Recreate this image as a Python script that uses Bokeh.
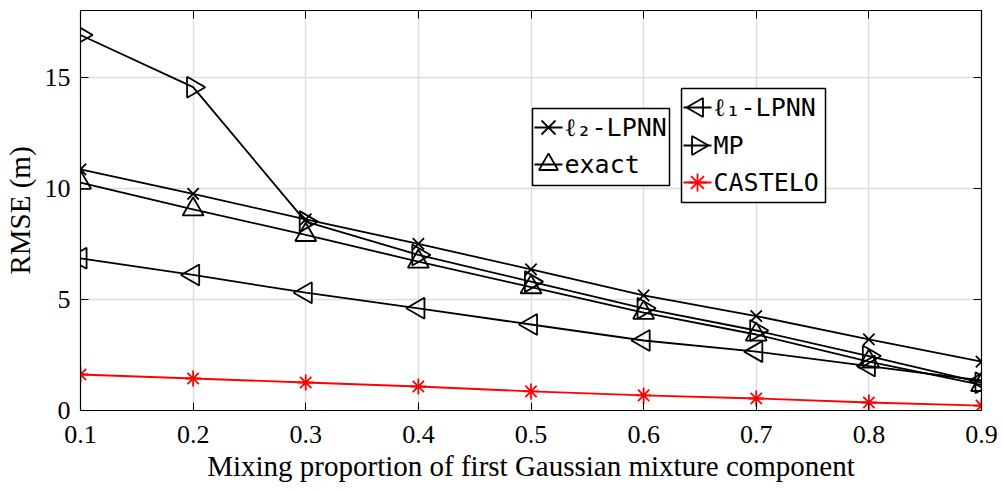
import numpy as np
from bokeh.plotting import figure
from bokeh.models import LinearAxis, FixedTicker, Range1d, PolyAnnotation, Label
from bokeh.embed import file_html
from bokeh.resources import INLINE

x = [0.1, 0.2, 0.3, 0.4, 0.5, 0.6, 0.7, 0.8, 0.9]
l2_lpnn = [10.85, 9.75, 8.6, 7.5, 6.35, 5.18, 4.25, 3.2, 2.2]
exact = [10.25, 9.05, 7.9, 6.7, 5.55, 4.4, 3.42, 2.2, 1.15]
l1_lpnn = [6.85, 6.1, 5.3, 4.6, 3.87, 3.15, 2.65, 2.0, 1.35]
mp = [16.9, 14.55, 8.5, 7.0, 5.8, 4.6, 3.6, 2.45, 1.25]
castelo = [1.62, 1.44, 1.26, 1.08, 0.86, 0.68, 0.54, 0.36, 0.22]
x_ticks = [0.1, 0.2, 0.3, 0.4, 0.5, 0.6, 0.7, 0.8, 0.9]
y_ticks = [0, 5, 10, 15]
legend1_labels = ["ℓ₂-LPNN", "exact"]
legend2_labels = ["ℓ₁-LPNN", "MP", "CASTELO"]

SERIF = "Liberation Serif"
MONO = "DejaVu Sans Mono"

W, H = 1003, 492
FL, FR, FT, FB = 79, 981, 10, 410  # frame edges in canvas pixels

p = figure(width=W, height=H, output_backend="svg", toolbar_location=None,
           x_range=Range1d(0.1, 0.9), y_range=Range1d(0, 18),
           min_border_left=FL, min_border_right=W - FR, min_border_top=FT, min_border_bottom=H - FB)
p.outline_line_color = "black"
p.outline_line_width = 1.2
p.background_fill_color = "white"
p.border_fill_color = "white"

for ax in (p.xaxis[0], p.yaxis[0]):
    ax.major_label_text_font = SERIF
    ax.major_label_text_font_size = "26px"
    ax.major_label_text_color = "black"
    ax.axis_label_text_font = SERIF
    ax.axis_label_text_font_size = "29px"
    ax.axis_label_text_font_style = "normal"
    ax.axis_label_text_color = "black"
    ax.major_tick_in = 8
    ax.major_tick_out = 0
    ax.minor_tick_in = 0
    ax.minor_tick_out = 0
    ax.axis_line_color = "black"
    ax.major_tick_line_color = "black"
p.xaxis[0].ticker = FixedTicker(ticks=x_ticks)
p.yaxis[0].ticker = FixedTicker(ticks=y_ticks)
p.xaxis[0].axis_label = "Mixing proportion of first Gaussian mixture component"
p.yaxis[0].axis_label = "RMSE (m)"
p.xaxis[0].major_label_standoff = 15
p.yaxis[0].major_label_standoff = 10
p.xaxis[0].axis_label_standoff = 4
p.yaxis[0].axis_label_standoff = 6

# mirrored ticks on top/right
top = LinearAxis(ticker=FixedTicker(ticks=x_ticks), major_label_text_font_size="0px",
                 major_tick_in=8, major_tick_out=0, minor_tick_in=0, minor_tick_out=0)
right = LinearAxis(ticker=FixedTicker(ticks=y_ticks), major_label_text_font_size="0px",
                   major_tick_in=8, major_tick_out=0, minor_tick_in=0, minor_tick_out=0)
top.major_label_text_alpha = 0
right.major_label_text_alpha = 0
p.add_layout(top, "above")
p.add_layout(right, "right")

p.xgrid.ticker = FixedTicker(ticks=x_ticks)
p.ygrid.ticker = FixedTicker(ticks=y_ticks)
p.xgrid.grid_line_color = "#dcdcdc"
p.ygrid.grid_line_color = "#dcdcdc"
p.xgrid.grid_line_width = 1.5
p.ygrid.grid_line_width = 1.5

lw = 1.8

def series(y, marker, color="black", angle=0.0, size=20):
    p.line(x, y, line_color=color, line_width=lw)
    p.scatter(x, y, marker=marker, size=size, angle=angle, fill_color=None,
              line_color=color, line_width=lw)

series(l2_lpnn, "x", size=16)
series(exact, "triangle", size=21)
series(l1_lpnn, "triangle", angle=np.pi / 2, size=21)
series(mp, "triangle", angle=-np.pi / 2, size=21)
series(castelo, "asterisk", color="red", size=16)

# ---------- hand-built legends (screen units, relative to frame bottom-left) ----------
def sx(cx):
    return cx - FL

def sy(cy):
    return FB - cy

def poly(pts, color="black", fill=None, width=lw):
    xs = [sx(a) for a, b in pts]
    ys = [sy(b) for a, b in pts]
    p.add_layout(PolyAnnotation(xs=xs, ys=ys, xs_units="screen", ys_units="screen",
                                fill_color=fill if fill else "white",
                                fill_alpha=1.0 if fill else 0.0,
                                line_color=color, line_alpha=1.0, line_width=width,
                                level="overlay"))

def tri(cx, cy, s, direction, color="black"):
    r = s / 2.0
    h = s * np.sqrt(3) / 2.0
    a = h / 3.0
    base = [(-r, a), (r, a), (0, a - h)]  # pointing up (canvas y down)
    pts = []
    for u, v in base:
        if direction == "up":
            pts.append((cx + u, cy + v))
        elif direction == "left":
            pts.append((cx + v, cy + u))
        else:  # right
            pts.append((cx - v, cy + u))
    poly(pts, color)

def xmark(cx, cy, r, color="black"):
    poly([(cx - r, cy - r), (cx + r, cy + r)], color)
    poly([(cx - r, cy + r), (cx + r, cy - r)], color)

def star(cx, cy, r, color="red"):
    d = r * 0.72
    poly([(cx, cy - r), (cx, cy + r)], color)
    poly([(cx - r, cy), (cx + r, cy)], color)
    poly([(cx - d, cy - d), (cx + d, cy + d)], color)
    poly([(cx - d, cy + d), (cx + d, cy - d)], color)

def legend_box(l, t, r, b):
    poly([(l, t), (r, t), (r, b), (l, b)], "black", fill="white", width=1.5)

def legend_text(txt, cx, cy):
    p.add_layout(Label(x=sx(cx), y=sy(cy), x_units="screen", y_units="screen", text=txt,
                       text_font=MONO, text_font_size="25px", text_color="black",
                       text_baseline="middle", text_align="left", level="overlay"))

def legend_row(box_left, cy, label, kind, color="black"):
    x0, x1 = box_left + 2, box_left + 30
    mx = box_left + 16
    poly([(x0, cy), (x1, cy)], color)
    if kind == "x":
        xmark(mx, cy, 7, color)
    elif kind == "star":
        star(mx, cy, 9, color)
    else:
        tri(mx, cy, 19, kind, color)
    legend_text(label, box_left + 32, cy)

# legend 1
legend_box(531, 108, 668, 185)
legend_row(531, 127, legend1_labels[0], "x")
legend_row(531, 164, legend1_labels[1], "up")
# legend 2
legend_box(680, 88, 824, 202)
legend_row(680, 107, legend2_labels[0], "left")
legend_row(680, 145, legend2_labels[1], "right")
legend_row(680, 182, legend2_labels[2], "star", "red")

open("out.html", "w").write(file_html(p, INLINE))
